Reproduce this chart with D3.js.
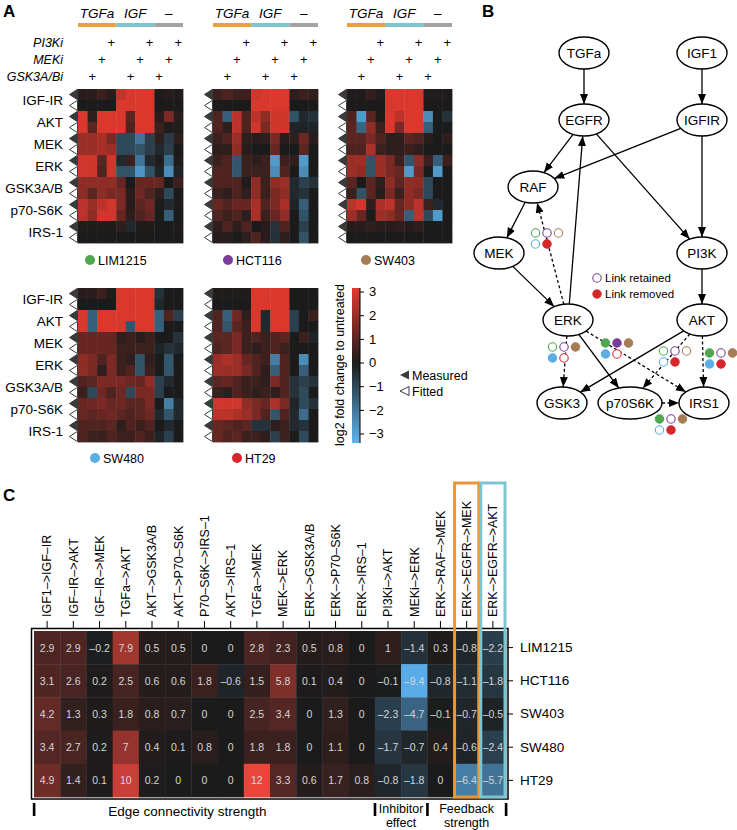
<!DOCTYPE html>
<html><head><meta charset="utf-8">
<script src="https://cdn.jsdelivr.net/npm/d3@7"></script>
<style>body{margin:0;background:#fff} svg{font-family:"Liberation Sans",Arial,Helvetica,sans-serif}</style>
</head><body><svg id="c" width="737" height="830"></svg>
<script>
// ---------------- DATA ----------------
const proteins = ["IGF-IR","AKT","MEK","ERK","GSK3A/B","p70-S6K","IRS-1"];
const stimuli = ["TGFa","IGF","–"];
const colStimulus = ["TGFa","TGFa","TGFa","TGFa","IGF","IGF","IGF","IGF","–","–","–"];
const inhibitors = ["PI3Ki","MEKi","GSK3A/Bi"];
const colInhibitor = [null,"GSK3A/Bi","MEKi","PI3Ki",null,"GSK3A/Bi","MEKi","PI3Ki","GSK3A/Bi","MEKi","PI3Ki"];
const cellLines = ["LIM1215","HCT116","SW403","SW480","HT29"];
const cellColors = ["#4fa84f","#7a3d9a","#a57d55","#5aaee4","#d5262b"];
const colorbarTicks = [3,2,1,0,-1,-2,-3];

// rows: measured / fitted interleaved per protein; 11 conditions each
const lim1215 = [
 [0.2,0.2,0.5,0.2, 2.6,3,3,3, 0.1,0.2,0.1],
 [0,0,0,0, 3,3,3,3, 0,0,0],
 [3,0.3,3,3, 3,1,3,3, 0.2,1.5,0.2],
 [3,1,3,3, 3,0.8,3,3, 0.5,0.1,0.1],
 [2,2,2.2,1.5, -1,-1,-2,-0.8, 0.3,-0.7,0.3],
 [2,2,2.2,2, -1,-1,-1.2,-0.8, -0.3,-0.8,0],
 [2.8,2.8,1,2.8, -0.3,0.5,-2,-0.3, 0.1,-1.8,0.1],
 [2.8,2.8,0.8,2.8, -1.2,-1.2,-2.7,-1.2, -0.2,-2.5,-0.2],
 [1.8,1.8,1.8,1.8, 1.2,0,1.2,1.2, 1.2,0,0.5],
 [1.8,1,1.8,1.5, 1.5,0.2,1.3,0.8, 0.3,-1,0],
 [2.5,2,2.5,2.8, 1.5,0.2,1,1.3, 0.1,-0.3,0.1],
 [2.5,1.8,2.8,2.8, 1.2,0.3,0.8,1.2, 0,-1.5,0],
 [0.1,0.1,0.1,0.1, 0.3,-0.3,0.1,0.1, 0,0,0.1],
 [0,0,0,0, 0,0,0,0, 0,0,0]
];
const hct116 = [
 [0.5,0.8,0.5,0.5, 2.8,3,3,3, 0.3,0.5,0.3],
 [0,0,0,0, 3,3,3,3, 0,0,0],
 [0.8,-1.5,2.5,0.8, 2.5,1.8,2.8,2.8, -1.2,-0.3,-0.5],
 [0.8,0.3,2.5,0.8, 2.8,1.5,2.8,2.8, -0.2,-0.2,-0.2],
 [0.5,0.8,2,0.3, 0.2,0.3,1.5,0.2, 0.3,1.3,0.2],
 [0.3,0.3,1.8,0.2, 0,0,1.2,0, 0,1,0],
 [0.5,0.8,-1.3,0.5, 0.3,0.5,-2.8,0.5, 0.3,-2.8,0],
 [0.8,0.8,-1.3,0.5, 0.5,0.5,-2.5,0.8, 0,-2.5,0],
 [0.8,0.8,0.8,0.1, 1.8,0.5,1.8,2, -0.3,-0.8,-0.5],
 [0.5,0.3,0.8,0.3, 1.8,0.5,1.5,1.8, -0.3,-0.5,0],
 [1.2,0.8,1.2,1.2, 2.2,0.8,1.5,2.2, -0.2,-1.5,0],
 [0.8,0.5,0.8,0.3, 2.2,0.5,1.2,1.8, 0,-1.2,0],
 [0.3,0.8,0.3,0.8, 0,0.2,-0.5,0.8, 0,-0.8,0],
 [0.2,0.2,0,0.3, 0.8,0.2,-0.5,0.3, 0,-1.2,0]
];
const sw403 = [
 [0.1,0.1,0.4,0.1, 3,3,3,3, 0.1,0.1,0.1],
 [0,0,0,0, 3,3,3,3, 0,0,0],
 [0.8,-2.8,1,0.1, 3,2.5,3,3, -2.5,0,-0.5],
 [1,-1.6,1.8,0.5, 3,1.5,3,3, -1.5,0,0],
 [1,1,1.5,0.8, 0.3,0.3,1,0.8, 0.2,0,0.3],
 [0.8,0.8,2.3,0.5, 0.3,0.3,0.5,0.3, 0,0,0],
 [2,2,-1.2,2, 1.5,0.5,-1.3,1.8, 0.5,-1.5,0.5],
 [2,1.8,-1.2,2, 1.5,1.2,-2.8,1.5, 0,-2.8,0],
 [1,0,1,0.3, 1.8,1,1.8,1.8, -1,0,0],
 [0.5,-1.2,1,0.2, 1.5,0.5,1.8,1.5, -1,0,0],
 [2.5,2.8,0.3,2.3, 2.5,1.2,1.8,2.5, 0.5,-0.3,0],
 [2,1.2,0,2, 1.8,1.2,-1.5,2.5, -1,-2.8,0],
 [0.2,0.2,0.3,0.2, 0.2,0.3,0.2,0.3, 0,0,0],
 [0,0,0,0, 0,0,0,0, 0,0,0]
];
const sw480 = [
 [0.2,0.2,0.5,0.1, 3,3,3,3, -0.5,0,0],
 [0,0,0,0, 3,3,3,3, -0.3,0,0],
 [3,-1.5,3,3, 3,3,3,3, -1.5,0.8,-0.8],
 [3,-1.5,3,3, 3,-1.3,3,3, -1.5,0,0],
 [1.2,1.2,1.2,1.2, 0.3,0.5,0.2,0.5, 0,0,-0.5],
 [1.2,1.2,1.2,1.2, 0.5,0.5,0.5,0.5, -0.2,-0.5,-0.3],
 [1.8,1.5,0.8,1.5, 0.5,0.3,-1.2,0.3, 0,-1.3,0],
 [1.8,1.5,0.3,1.5, 0.5,0.8,-1.2,0.5, 0,-1.3,0],
 [0.8,1,1.5,1.5, 1.5,1.3,1.2,1.8, -0.8,-0.3,0],
 [0.5,-1,1.3,0.8, 1.3,-1,1.5,1.5, -0.8,0,0],
 [1.2,1.3,1.5,1.2, 1.3,1,1,1.5, 0,-2.2,-0.3],
 [1.2,1,1.2,1.3, 1,0.8,1,1.3, -0.3,-1.3,-0.3],
 [0.8,0.8,0.8,1, 0.3,0.8,0.5,0.8, 0,-0.3,0],
 [0.8,0.5,0.5,0.8, 0.5,0.5,0.8,0.5, -0.2,-0.8,0]
];
const ht29 = [
 [0.1,0.1,0.1,0.1, 3,3,3,3, 0,0,0],
 [0,0,0,0, 3,3,3,3, 0,0,0],
 [0.8,-1.5,1.3,0.3, 3,-0.3,3,3, -0.8,0,0.5],
 [0.8,-1.3,1,0.5, 3,-0.3,3,3, -0.8,0,0],
 [1,1,1.5,0.5, 0.8,0.5,0.8,1, 0,0.5,-0.2],
 [0.8,1,1.5,0.5, 0.3,0.5,0.8,0.5, 0,0,0],
 [2,2.3,2,1.2, 0.8,0.5,-2.2,0.8, 0,-2.5,0],
 [2,2,2,1.5, 0.8,0.3,-1.5,0.8, 0,-1.5,0],
 [1,1.2,0.8,0.5, 0.5,0.3,1.5,0.8, -0.5,-0.8,-0.5],
 [0.5,0.3,0.8,0.5, 0.3,0.5,0.3,0.8, -0.5,-1,0],
 [2.8,2.8,2.8,1.8, 1.5,1.2,2.3,1.5, -0.2,-1,-0.5],
 [2.5,2.5,2.3,2, 1.5,0.8,-1.3,0.8, -0.3,-1.8,0],
 [1.2,1,0.8,1, -0.5,-0.5,0.3,0.5, -0.3,-0.5,0],
 [1.2,0.8,1,0.5, 0.5,0.3,-0.8,0.5, 0,-1,0]
];

// Panel C
const edges = ["IGF1–>IGF–IR","IGF–IR–>AKT","IGF–IR–>MEK","TGFa–>AKT","AKT–>GSK3A/B","AKT–>P70–S6K","P70–S6K–>IRS–1","AKT–>IRS–1","TGFa–>MEK","MEK–>ERK","ERK–>GSK3A/B","ERK–>P70–S6K","ERK–>IRS–1","PI3Ki–>AKT","MEKi–>ERK","ERK–>RAF–>MEK","ERK–>EGFR–>MEK","ERK–>EGFR–>AKT"];
const cLIM1215 = [2.9,2.9,-0.2,7.9,0.5,0.5,0,0,2.8,2.3,0.5,0.8,0,1,-1.4,0.3,-0.8,-2.2];
const cHCT116  = [3.1,2.6,0.2,2.5,0.6,0.6,1.8,-0.6,1.5,5.8,0.1,0.4,0,-0.1,-9.4,-0.8,-1.1,-1.8];
const cSW403   = [4.2,1.3,0.3,1.8,0.8,0.7,0,0,2.5,3.4,0,1.3,0,-2.3,-4.7,-0.1,-0.7,-0.5];
const cSW480   = [3.4,2.7,0.2,7,0.4,0.1,0.8,0,1.8,1.8,0,1.1,0,-1.7,-0.7,0.4,-0.6,-2.4];
const cHT29    = [4.9,1.4,0.1,10,0.2,0,0,0,12,3.3,0.6,1.7,0.8,-0.8,-1.8,0,-6.4,-5.7];
const edgeGroups = [{label:["Edge connectivity strength"],from:0,to:13},{label:["Inhibitor","effect"],from:13,to:15},{label:["Feedback","strength"],from:15,to:18}];

// Panel B network
const netNodes = ["TGFa","IGF1","EGFR","IGFIR","RAF","MEK","PI3K","ERK","AKT","GSK3","p70S6K","IRS1"];
const netEdges = [
 ["TGFa","EGFR",false],["IGF1","IGFIR",false],["EGFR","RAF",false],["IGFIR","RAF",false],
 ["EGFR","PI3K",false],["IGFIR","PI3K",false],["RAF","MEK",false],["MEK","ERK",false],
 ["ERK","EGFR",false],["ERK","RAF",true],["PI3K","AKT",false],["ERK","GSK3",true],
 ["ERK","p70S6K",false],["ERK","IRS1",true],["AKT","GSK3",false],["AKT","p70S6K",true],
 ["AKT","IRS1",true],["p70S6K","IRS1",true]
];
// link retained (true) / removed (false) per cell line order
const linkStatus = {
 "ERK-RAF":[true,true,true,true,false],
 "ERK-GSK3":[true,true,false,false,true],
 "ERK-IRS1":[false,false,false,false,true],
 "AKT-p70S6K":[true,true,true,true,false],
 "AKT-IRS1":[false,true,false,false,false],
 "p70S6K-IRS1":[false,true,false,true,false]
};

// ---------------- LAYOUT ----------------
const svg = d3.select("#c");
const FONT = '"Liberation Sans",Arial,Helvetica,sans-serif';

const panelsA = [
 {data:lim1215, x:78, y:89, header:true, labels:true, line:0, dotX:90, dotY:260},
 {data:hct116, x:213, y:89, header:true, labels:false, line:1, dotX:228, dotY:260},
 {data:sw403, x:347, y:89, header:true, labels:false, line:2, dotX:366, dotY:260},
 {data:sw480, x:78, y:288, header:false, labels:true, line:3, dotX:95, dotY:458},
 {data:ht29, x:213, y:288, header:false, labels:false, line:4, dotX:237, dotY:458}
];
const HW = 105, HH = 154;
const colorA = d3.scaleLinear().domain([-3.4,0,3.15]).range(["#5db6f0","#1b1b1b","#e5392e"]).clamp(true);
const stimColor = {"TGFa":"#e9a03f","IGF":"#7ec6cf","–":"#a3a3a3"};
const inhY = {"PI3Ki":42,"MEKi":59,"GSK3A/Bi":76};

// panel letters
svg.append("text").attr("x",3).attr("y",17).attr("font-size",17).attr("font-weight","bold").text("A");
svg.append("text").attr("x",482).attr("y",17).attr("font-size",17).attr("font-weight","bold").text("B");
svg.append("text").attr("x",3).attr("y",501).attr("font-size",17).attr("font-weight","bold").text("C");

// inhibitor labels
inhibitors.forEach(n=>{
  svg.append("text").attr("x",63).attr("y",inhY[n]+4.5).attr("text-anchor","end")
    .attr("font-size",12.5).attr("font-style","italic").text(n);
});

panelsA.forEach(p=>{
  const g = svg.append("g");
  const x = d3.scaleBand().domain(d3.range(11)).range([p.x, p.x+HW]);
  const y = d3.scaleBand().domain(d3.range(14)).range([p.y, p.y+HH]);
  if(p.header){
    stimuli.forEach(s=>{
      const cols = colStimulus.map((c,i)=>c===s?i:-1).filter(i=>i>=0);
      const x0 = x(cols[0]), x1 = x(cols[cols.length-1])+x.bandwidth();
      g.append("rect").attr("x",x0).attr("y",23).attr("width",x1-x0).attr("height",4).attr("fill",stimColor[s]);
      g.append("text").attr("x",(x0+x1)/2).attr("y",18).attr("text-anchor","middle")
        .attr("font-size",13.5).attr("font-style","italic").text(s);
    });
    colInhibitor.forEach((inh,i)=>{
      if(!inh) return;
      g.append("text").attr("x",x(i)+x.bandwidth()/2).attr("y",inhY[inh]+4.5).attr("text-anchor","middle")
        .attr("font-size",13).text("+");
    });
  }
  const cells = p.data.flatMap((r,i)=>r.map((v,j)=>({i,j,v})));
  g.selectAll("rect.cell").data(cells).join("rect").attr("class","cell")
    .attr("x",d=>x(d.j)).attr("y",d=>y(d.i))
    .attr("width",x.bandwidth()+0.4).attr("height",y.bandwidth()+0.4)
    .attr("fill",d=>colorA(d.v));
  d3.range(14).forEach(i=>{
    const yc = y(i)+y.bandwidth()/2;
    g.append("path").attr("d",`M${p.x-0.5},${yc-5.2}L${p.x-0.5},${yc+5.2}L${p.x-8.5},${yc}Z`)
      .attr("fill", i%2===0 ? "#3a3a3a" : "#fff").attr("stroke","#3a3a3a").attr("stroke-width",1);
  });
  if(p.labels){
    proteins.forEach((pr,k)=>{
      g.append("text").attr("x",63).attr("y",y(2*k)+y.bandwidth()+4.5).attr("text-anchor","end")
        .attr("font-size",13.5).text(pr);
    });
  }
  g.append("circle").attr("cx",p.dotX).attr("cy",p.dotY).attr("r",5).attr("fill",cellColors[p.line]);
  g.append("text").attr("x",p.dotX+8).attr("y",p.dotY+4.5).attr("font-size",12.5).text(cellLines[p.line]);
});

// colorbar
(function(){
  const yS = d3.scaleLinear().domain([-3.4,3.15]).range([443,288]);
  const defs = svg.append("defs");
  const grad = defs.append("linearGradient").attr("id","cbg").attr("x1",0).attr("y1",1).attr("x2",0).attr("y2",0);
  d3.range(0,1.0001,0.05).forEach(t=>{
    const v = -3.4 + t*6.55;
    grad.append("stop").attr("offset",t).attr("stop-color",colorA(v));
  });
  svg.append("rect").attr("x",352).attr("y",288).attr("width",8).attr("height",155).attr("fill","url(#cbg)");
  const ax = svg.append("g").attr("transform","translate(360,0)")
    .call(d3.axisRight(yS).tickValues(colorbarTicks).tickSize(4).tickFormat(d=>d<0?"−"+Math.abs(d):d));
  ax.select(".domain").attr("stroke","#000").attr("d","M0,288V443");
  ax.selectAll("text").attr("font-size",13).attr("font-family",FONT).attr("x",9).attr("fill","#000");
  svg.append("text").attr("transform","translate(344,365) rotate(-90)").attr("text-anchor","middle")
    .attr("font-size",12.5).text("log2 fold change to untreated");
  svg.append("path").attr("d","M400,375L409,370.5L409,379.5Z").attr("fill","#3a3a3a");
  svg.append("path").attr("d","M400,375L409,370.5L409,379.5Z").attr("transform","translate(0,16)")
    .attr("fill","#fff").attr("stroke","#3a3a3a");
  svg.append("text").attr("x",412).attr("y",379.5).attr("font-size",12.5).text("Measured");
  svg.append("text").attr("x",412).attr("y",395.5).attr("font-size",12.5).text("Fitted");
})();

// ---------------- PANEL B ----------------
const nodePos = {TGFa:[584,53],IGF1:[702,53],EGFR:[584,120],IGFIR:[702,120],RAF:[533,187],MEK:[499,253],
  PI3K:[702,253],ERK:[568,320],AKT:[702,320],GSK3:[562,403],p70S6K:[630,403],IRS1:[704,403]};
const nodeRx = n => n==="p70S6K" ? 32 : 25;
const RY = 16;
const defs2 = svg.append("defs");
defs2.append("marker").attr("id","arr").attr("markerUnits","userSpaceOnUse").attr("viewBox","0 -5 10 10")
  .attr("refX",10).attr("refY",0).attr("markerWidth",10).attr("markerHeight",10).attr("orient","auto")
  .append("path").attr("d","M0,-4L10,0L0,4Z").attr("fill","#000");
function boundary(n, dx, dy){
  const [cx,cy] = nodePos[n]; const rx = nodeRx(n);
  const t = 1/Math.sqrt((dx/rx)**2 + (dy/RY)**2);
  return [cx+dx*t, cy+dy*t];
}
const gB = svg.append("g");
netEdges.forEach(([s,t,dashed])=>{
  const [sx,sy]=nodePos[s],[tx,ty]=nodePos[t];
  const dx=tx-sx, dy=ty-sy;
  const p0 = boundary(s,dx,dy), p1 = boundary(t,-dx,-dy);
  gB.append("line").attr("x1",p0[0]).attr("y1",p0[1]).attr("x2",p1[0]).attr("y2",p1[1])
    .attr("stroke","#000").attr("stroke-width",1.3).attr("stroke-dasharray",dashed?"3,2.5":null)
    .attr("marker-end","url(#arr)");
});
netNodes.forEach(n=>{
  const [cx,cy]=nodePos[n];
  gB.append("ellipse").attr("cx",cx).attr("cy",cy).attr("rx",nodeRx(n)).attr("ry",RY)
    .attr("fill","#fff").attr("stroke","#000").attr("stroke-width",1.4);
  gB.append("text").attr("x",cx).attr("y",cy+4.8).attr("text-anchor","middle").attr("font-size",13.5).text(n);
});
const dotAnchors = {"ERK-RAF":[547,233],"ERK-GSK3":[564,347],"ERK-IRS1":[617,343],
  "AKT-p70S6K":[675,351],"AKT-IRS1":[721,353],"p70S6K-IRS1":[671,419]};
const dotOffsets = [[-11.5,0],[0,0],[11.5,0],[-11.5,11],[0,11]];
Object.entries(linkStatus).forEach(([k,st])=>{
  const [ax,ay]=dotAnchors[k];
  st.forEach((retained,i)=>{
    gB.append("circle").attr("cx",ax+dotOffsets[i][0]).attr("cy",ay+dotOffsets[i][1]).attr("r",4.2)
      .attr("fill",retained?"#fff":cellColors[i]).attr("stroke",cellColors[i]).attr("stroke-width",1.1);
  });
});
gB.append("circle").attr("cx",597).attr("cy",278).attr("r",4.2).attr("fill","#fff").attr("stroke",cellColors[1]).attr("stroke-width",1.1);
gB.append("circle").attr("cx",597).attr("cy",294).attr("r",4.2).attr("fill",cellColors[4]).attr("stroke",cellColors[4]);
gB.append("text").attr("x",605).attr("y",282).attr("font-size",11.5).text("Link retained");
gB.append("text").attr("x",605).attr("y",298).attr("font-size",11.5).text("Link removed");

// ---------------- PANEL C ----------------
(function(){
  const matrix = [cLIM1215,cHCT116,cSW403,cSW480,cHT29];
  const x = d3.scaleBand().domain(edges).range([34,506]);
  const y = d3.scaleBand().domain(cellLines).range([631,797]);
  const colorC = d3.scaleLinear().domain([-9.5,0,12]).range(["#5aaeea","#1b1b1b","#e9463b"]).clamp(true);
  const g = svg.append("g");
  const cells = matrix.flatMap((r,i)=>r.map((v,j)=>({line:cellLines[i],edge:edges[j],v})));
  g.selectAll("rect").data(cells).join("rect")
    .attr("x",d=>x(d.edge)).attr("y",d=>y(d.line)).attr("width",x.bandwidth()+0.4).attr("height",y.bandwidth()+0.4)
    .attr("fill",d=>colorC(d.v));
  g.selectAll("text.v").data(cells).join("text").attr("class","v")
    .attr("x",d=>x(d.edge)+x.bandwidth()/2).attr("y",d=>y(d.line)+y.bandwidth()/2+4)
    .attr("text-anchor","middle").attr("font-size",10.5).attr("fill","#d6d6d6")
    .text(d=>d.v<0?"–"+Math.abs(d.v):String(d.v));
  g.append("rect").attr("x",31.5).attr("y",628.5).attr("width",476.5).attr("height",170.5)
    .attr("fill","none").attr("stroke","#000").attr("stroke-width",1.5);
  // top axis
  const top = g.append("g").attr("transform","translate(0,628)").call(d3.axisTop(x).tickSize(7).tickSizeOuter(0));
  top.select(".domain").remove();
  top.selectAll("line").attr("stroke","#000");
  top.selectAll("text").attr("font-size",12.5).attr("font-family",FONT).attr("fill","#000")
    .attr("transform","rotate(-90)").attr("text-anchor","start").attr("x",11).attr("y",0).attr("dy","0.35em");
  // right axis
  const right = g.append("g").attr("transform","translate(507,0)").call(d3.axisRight(y).tickSize(6).tickSizeOuter(0));
  right.select(".domain").remove();
  right.selectAll("line").attr("stroke","#000");
  right.selectAll("text").attr("font-size",13.5).attr("font-family",FONT).attr("fill","#000").attr("x",13);
  // highlight boxes
  const eMEK = edges[16], eAKT = edges[17];
  g.append("rect").attr("x",x(eMEK)+1).attr("y",483).attr("width",x.bandwidth()-2).attr("height",314)
    .attr("fill","none").attr("stroke","#e9963a").attr("stroke-width",3);
  g.append("rect").attr("x",x(eAKT)+1).attr("y",483).attr("width",x.bandwidth()-2).attr("height",314)
    .attr("fill","none").attr("stroke","#7cc5d0").attr("stroke-width",3);
  // group separators and labels
  const bounds = [0,13,15,18];
  bounds.forEach(b=>{
    const xb = b<edges.length ? x(edges[b]) : x(edges[edges.length-1])+x.bandwidth();
    g.append("rect").attr("x",xb-1.2).attr("y",803).attr("width",2.6).attr("height",13).attr("fill","#000");
  });
  const labelShift = [-17,0,0];
  edgeGroups.forEach((gr,gi)=>{
    const x0 = x(edges[gr.from]), x1 = x(edges[gr.to-1])+x.bandwidth();
    gr.label.forEach((l,k)=>{
      g.append("text").attr("x",(x0+x1)/2+labelShift[gi]).attr("y",gr.label.length===1?816:813+k*14)
        .attr("text-anchor","middle").attr("font-size",gr.label.length===1?13.5:12.5).text(l);
    });
  });
})();
</script></body></html>
